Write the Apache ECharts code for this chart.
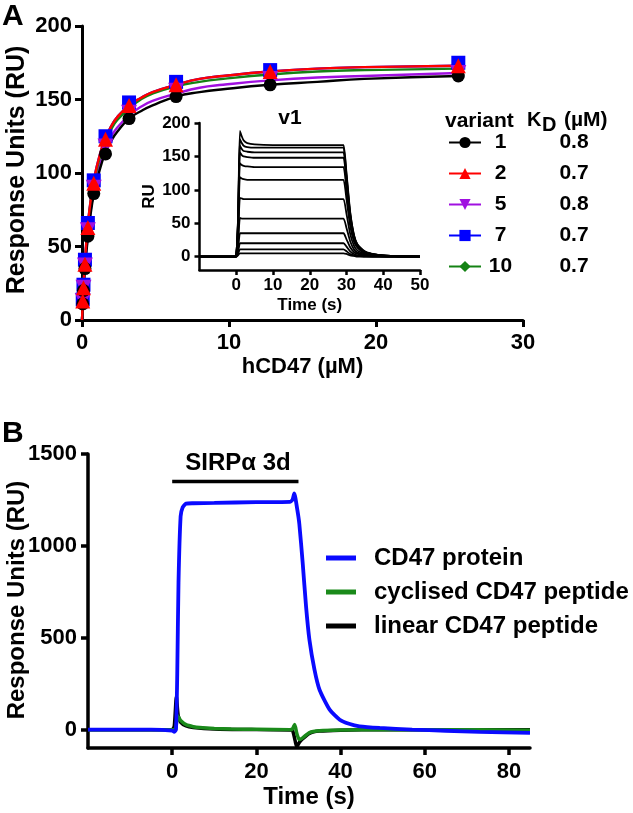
<!DOCTYPE html>
<html>
<head>
<meta charset="utf-8">
<script src="https://cdn.jsdelivr.net/npm/echarts@6/dist/echarts.min.js"></script>
<style>
html,body{margin:0;padding:0;background:#fff;}
#chart{width:633px;height:813px;}
</style>
</head>
<body>
<div id="chart"></div>
<script>
// ---------- Panel A: equilibrium binding (measured points) ----------
const concA = [0.05, 0.1, 0.2, 0.4, 0.8, 1.6, 3.2, 6.4, 12.8, 25.6];
const ru_v1  = [11, 20, 35, 57, 86, 113, 137, 152, 160, 166];
const ru_v2  = [13, 22, 38, 63, 93, 123, 146, 160, 169, 173];
const ru_v5  = [13, 22, 37, 61, 90, 118, 141, 156, 164, 168];
const ru_v7  = [14, 24, 41, 66, 95, 125, 148, 162, 170, 175];
const ru_v10 = [13, 22, 38, 62, 92, 121, 145, 159, 167, 171];
// fitted curves
const fitX    = [0, 0.05, 0.1, 0.2, 0.4, 0.6, 0.8, 1.2, 1.6, 2.0, 2.4, 3.2, 4.0, 4.8, 6.4, 8.0, 9.6, 12.8, 16, 19.2, 25.6];
const fit_v1  = [0, 10, 19, 35, 56, 73, 85, 102, 114, 122, 128, 137, 142, 146, 152, 155, 157, 160, 162, 164, 166];
const fit_v2  = [0, 12, 22, 40, 65, 82, 95, 112, 124, 132, 138, 146, 151, 155, 160, 164, 166, 169, 171, 172, 173];
const fit_v5  = [0, 11, 20, 36, 58, 75, 88, 105, 117, 125, 131, 139, 145, 149, 154, 158, 160, 163, 165, 166, 168];
const fit_v7  = [0, 12, 22, 40, 65, 82, 95, 112, 124, 132, 138, 146, 151, 155, 160, 164, 166, 169, 171, 172, 173];
const fit_v10 = [0, 12, 22, 39, 63, 81, 93, 110, 122, 130, 136, 144, 150, 154, 159, 162, 164, 167, 169, 170, 171];
const variants = ['1', '2', '5', '7', '10'];
const kdValues = ['0.8', '0.7', '0.8', '0.7', '0.7'];
const yTicksA = [0, 50, 100, 150, 200];
const xTicksA = [0, 10, 20, 30];

// ---------- Panel A inset: v1 sensorgrams ----------
const tInset = [-10, -0.5, 0, 0.5, 1, 1.5, 2, 3, 5, 10, 20, 28.5, 29.2, 30, 31, 32, 33, 35, 38, 42, 46, 50];
const inset1  = [0, 0, 2, 60, 188, 180, 174, 170, 168, 167, 167, 167, 167, 125, 67, 33, 18, 8, 3, 1, 0.5, 0];
const inset2  = [0, 0, 2, 58, 176, 170, 166, 164, 163, 163, 163, 163, 163, 122, 65, 33, 18, 7, 3, 1, 0.5, 0];
const inset3  = [0, 0, 2, 55, 166, 161, 158, 157, 156, 156, 156, 156, 156, 117, 62, 31, 17, 7, 3, 1, 0.5, 0];
const inset4  = [0, 0, 1, 52, 156, 152, 150, 149, 148, 148, 148, 148, 148, 111, 59, 30, 16, 7, 3, 1, 0, 0];
const inset5  = [0, 0, 1, 47, 140, 137, 136, 135, 134, 134, 134, 134, 134, 100, 54, 27, 15, 6, 2, 1, 0, 0];
const inset6  = [0, 0, 1, 40, 119, 117, 116, 115, 115, 115, 115, 115, 115, 86, 46, 23, 13, 5, 2, 1, 0, 0];
const inset7  = [0, 0, 1, 30, 88, 87, 86, 86, 86, 86, 86, 86, 86, 64, 34, 17, 9, 4, 2, 1, 0, 0];
const inset8  = [0, 0, 0, 20, 58, 57, 57, 57, 57, 57, 57, 57, 57, 43, 23, 11, 6, 3, 1, 0, 0, 0];
const inset9  = [0, 0, 0, 12, 35, 35, 35, 35, 35, 35, 35, 35, 35, 26, 14, 7, 4, 2, 1, 0, 0, 0];
const inset10 = [0, 0, 0, 7, 20, 20, 20, 20, 20, 20, 20, 20, 20, 15, 8, 4, 2, 1, 0, 0, 0, 0];
const inset11 = [0, 0, 0, 4, 11, 11, 11, 11, 11, 11, 11, 11, 11, 8, 4, 2, 1, 0, 0, 0, 0, 0];
const inset12 = [0, 0, 0, 2, 5, 5, 5, 5, 5, 5, 5, 5, 5, 4, 2, 1, 0, 0, 0, 0, 0, 0];
const yTicksInset = [0, 50, 100, 150, 200];
const xTicksInset = [0, 10, 20, 30, 40, 50];

// ---------- Panel B: sensorgrams ----------
const tBlue  = [-20, -5, 0, 0.5, 0.9, 1.2, 1.5, 2.0, 2.5, 3.3, 5, 10, 20, 28, 28.6, 29.0, 29.7, 30.2, 31, 31.8, 32.6, 33.8, 35, 37.4, 39.8, 42, 44.5, 49.3, 57, 65, 73, 85];
const ruBlue = [0, 0, -5, -12, 0, 300, 800, 1160, 1210, 1230, 1232, 1234, 1238, 1240, 1252, 1285, 1200, 1120, 907, 670, 489, 326, 217, 109, 54, 32, 18, 9, 0, -6, -12, -18];
const tGreen  = [-20, -5, 0, 0.8, 1.3, 1.6, 2, 3.3, 5, 6.5, 10, 14, 20, 28, 28.6, 29.1, 29.6, 30.2, 31, 32.6, 35, 40, 50, 60, 85];
const ruGreen = [0, 0, 0, 5, 75, 65, 50, 27, 16, 11, 6, 3, 2, 0, 5, 28, -20, -54, -45, -16, -6, -2, 0, 0, -3];
const tBlack  = [-20, -5, 0, 0.5, 1.0, 1.4, 2, 3.3, 5, 10, 20, 28, 28.6, 29.2, 29.6, 30.2, 31, 32.6, 35, 40, 50, 85];
const ruBlack = [0, 0, 0, 20, 180, 80, 40, 20, 12, 4, 0, -2, -5, -60, -95, -70, -50, -20, -8, -3, 0, 0];
const injection = [0, 30];
const injectionLevel = 1350;
const seriesNamesB = ['CD47 protein', 'cyclised CD47 peptide', 'linear CD47 peptide'];
const yTicksB = [0, 500, 1000, 1500];
const xTicksB = [0, 20, 40, 60, 80];

const FONT = '"Liberation Sans", Arial, sans-serif';
const zip = (xs, ys) => xs.map((x, i) => [x, ys[i]]);

const chart = echarts.init(document.getElementById('chart'), null, {renderer: 'canvas'});

function axis(opts) {
  const lw = opts.lw;
  return {
    type: 'value',
    gridIndex: opts.grid,
    min: opts.min, max: opts.max,
    name: opts.name || '',
    nameLocation: 'middle',
    nameGap: opts.nameGap || 0,
    nameTextStyle: {fontFamily: FONT, fontWeight: 'bold', fontSize: opts.nameSize || 22, color: '#000'},
    axisLine: {show: true, onZero: false, lineStyle: {color: '#000', width: lw}},
    axisTick: {show: true, inside: false, length: opts.tickLen || 7, lineStyle: {color: '#000', width: lw}, customValues: opts.ticks},
    axisLabel: {show: true, margin: opts.margin, fontFamily: FONT, fontWeight: 'bold', fontSize: opts.labelSize || 21, color: '#000',
                customValues: opts.ticks, formatter: v => String(v)},
    splitLine: {show: false}
  };
}

const colorsA = {'1': '#000000', '2': '#ff0000', '5': '#a010e0', '7': '#0000ff', '10': '#148214'};
const symA = {'1': ['circle', 13, 0], '2': ['triangle', 15, 0], '5': ['triangle', 16, 180], '7': ['rect', 14, 0], '10': ['diamond', 9, 0]};
const valsA = {'1': ru_v1, '2': ru_v2, '5': ru_v5, '7': ru_v7, '10': ru_v10};
const fitA = {'1': fit_v1, '2': fit_v2, '5': fit_v5, '7': fit_v7, '10': fit_v10};
const drawOrder = ['7', '5', '10', '1', '2'];

const seriesA = drawOrder.map(v => ({
  type: 'line',
  name: v + ' fit',
  xAxisIndex: 0, yAxisIndex: 0,
  smooth: 0.5,
  symbol: 'none',
  showSymbol: false,
  lineStyle: {color: colorsA[v], width: 2.4},
  data: zip(fitX, fitA[v]),
  z: 3
}));
const seriesAPts = drawOrder.map(v => ({
  type: 'scatter',
  name: v + ' points',
  xAxisIndex: 0, yAxisIndex: 0,
  symbol: symA[v][0],
  symbolSize: symA[v][1],
  symbolRotate: symA[v][2],
  itemStyle: {color: colorsA[v], opacity: 1},
  data: zip(concA, valsA[v]),
  z: 4
}));
// legend entries (line + marker icon)
const seriesALegend = variants.map(v => ({
  type: 'line', name: v, xAxisIndex: 0, yAxisIndex: 0,
  symbol: symA[v][0], symbolSize: symA[v][1], symbolRotate: symA[v][2],
  color: colorsA[v], lineStyle: {color: colorsA[v], width: 2.4}, itemStyle: {color: colorsA[v]},
  data: []
}));

const insetCurves = [inset1, inset2, inset3, inset4, inset5, inset6, inset7, inset8, inset9, inset10, inset11, inset12];
const seriesInset = insetCurves.map((c, i) => ({
  type: 'line', name: 'conc' + i,
  xAxisIndex: 1, yAxisIndex: 1,
  showSymbol: false, symbol: 'none',
  smooth: 0.2,
  lineStyle: {color: '#000', width: 1.8},
  data: zip(tInset, c),
  z: 2
}));

const seriesB = [
  {type: 'line', name: seriesNamesB[2], xAxisIndex: 2, yAxisIndex: 2, symbol: 'none', showSymbol: false, smooth: 0.2,
   color: '#000', lineStyle: {color: '#000', width: 3.5}, data: zip(tBlack, ruBlack)},
  {type: 'line', name: seriesNamesB[1], xAxisIndex: 2, yAxisIndex: 2, symbol: 'none', showSymbol: false, smooth: 0.2,
   color: '#1a8a1a', lineStyle: {color: '#1a8a1a', width: 3.5}, data: zip(tGreen, ruGreen)},
  {type: 'line', name: seriesNamesB[0], xAxisIndex: 2, yAxisIndex: 2, symbol: 'none', showSymbol: false, smooth: 0.2,
   color: '#0a0aff', lineStyle: {color: '#0a0aff', width: 3.8}, data: zip(tBlue, ruBlue)},
  {type: 'line', name: 'injection', xAxisIndex: 2, yAxisIndex: 2, symbol: 'none', showSymbol: false,
   lineStyle: {color: '#000', width: 3.5}, data: injection.map(t => [t, injectionLevel])}
];

const kdMap = {};
variants.forEach((v, i) => kdMap[v] = kdValues[i]);

const vText = (txt, x, y, size) => ({
  type: 'text', x: x, y: y, rotation: Math.PI / 2,
  style: {text: txt, font: 'bold ' + size + 'px ' + FONT, fill: '#000', textAlign: 'center', textVerticalAlign: 'middle'}
});

const option = {
  animation: false,
  backgroundColor: '#fff',
  grid: [
    {left: 82, top: 26, width: 441, height: 294, containLabel: false, outerBoundsMode: 'none'},
    {left: 199.5, top: 123, width: 220.5, height: 147, containLabel: false, outerBoundsMode: 'none'},
    {left: 88, top: 454, width: 442, height: 294, containLabel: false, outerBoundsMode: 'none'}
  ],
  xAxis: [
    axis({grid: 0, min: 0, max: 30, ticks: xTicksA, lw: 3, margin: 12, name: 'hCD47 (µM)', nameGap: 36, nameSize: 22, labelSize: 22}),
    axis({grid: 1, min: -10, max: 50, ticks: xTicksInset, lw: 2.5, tickLen: 5, margin: 7, labelSize: 17, name: 'Time (s)', nameGap: 27, nameSize: 17}),
    axis({grid: 2, min: -20, max: 85, ticks: xTicksB, lw: 3.5, margin: 13, labelSize: 22, name: 'Time (s)', nameGap: 37, nameSize: 24})
  ],
  yAxis: [
    axis({grid: 0, min: 0, max: 200, ticks: yTicksA, lw: 3, margin: 10, labelSize: 22}),
    axis({grid: 1, min: -20, max: 200, ticks: yTicksInset, lw: 2.5, tickLen: 5, margin: 9, labelSize: 17, name: 'RU', nameGap: 42, nameSize: 17}),
    axis({grid: 2, min: -100, max: 1500, ticks: yTicksB, lw: 3.5, margin: 11, labelSize: 22})
  ],
  legend: [
    {
      data: variants,
      orient: 'vertical',
      left: 443, top: 127,
      itemWidth: 32, itemHeight: 14, itemGap: 10,
      selectedMode: false,
      formatter: name => `{n|${name}}{k|${kdMap[name]}}`,
      textStyle: {
        fontFamily: FONT, fontWeight: 'bold', fontSize: 21, color: '#000',
        rich: {
          n: {width: 29, align: 'right', fontFamily: FONT, fontWeight: 'bold', fontSize: 21, lineHeight: 24, color: '#000'},
          k: {width: 118, align: 'center', fontFamily: FONT, fontWeight: 'bold', fontSize: 21, lineHeight: 24, color: '#000'}
        }
      }
    },
    {
      data: seriesNamesB,
      orient: 'vertical',
      left: 321, top: 541,
      icon: 'rect',
      itemWidth: 30, itemHeight: 5, itemGap: 10,
      selectedMode: false,
      textStyle: {fontFamily: FONT, fontWeight: 'bold', fontSize: 24, lineHeight: 24, color: '#000', padding: [0, 0, 0, 13]}
    }
  ],
  graphic: [
    {type: 'text', left: 2, top: 2, style: {text: 'A', font: 'bold 30px ' + FONT, fill: '#000'}},
    {type: 'text', left: 2, top: 419, style: {text: 'B', font: 'bold 30px ' + FONT, fill: '#000'}},
    vText('Response Units (RU)', 17, 170, 25),
    vText('Response Units (RU)', 17, 600, 24),
    {type: 'text', x: 290, y: 118, style: {text: 'v1', font: 'bold 21px ' + FONT, fill: '#000', textAlign: 'center', textVerticalAlign: 'middle'}},
    {type: 'text', x: 445, y: 121, style: {text: 'variant', font: 'bold 21px ' + FONT, fill: '#000', textAlign: 'left', textVerticalAlign: 'middle'}},
    {type: 'text', x: 527, y: 120, style: {text: 'K', font: 'bold 20px ' + FONT, fill: '#000', textAlign: 'left', textVerticalAlign: 'middle'}},
    {type: 'text', x: 542, y: 125, style: {text: 'D', font: 'bold 20px ' + FONT, fill: '#000', textAlign: 'left', textVerticalAlign: 'middle'}},
    {type: 'text', x: 564, y: 120, style: {text: '(µM)', font: 'bold 21px ' + FONT, fill: '#000', textAlign: 'left', textVerticalAlign: 'middle'}},
    {type: 'text', x: 238, y: 463, style: {text: 'SIRPα 3d', font: 'bold 24px ' + FONT, fill: '#000', textAlign: 'center', textVerticalAlign: 'middle'}}
  ],
  series: seriesA.concat(seriesAPts, seriesALegend, seriesInset, seriesB)
};

chart.setOption(option);
</script>
</body>
</html>
